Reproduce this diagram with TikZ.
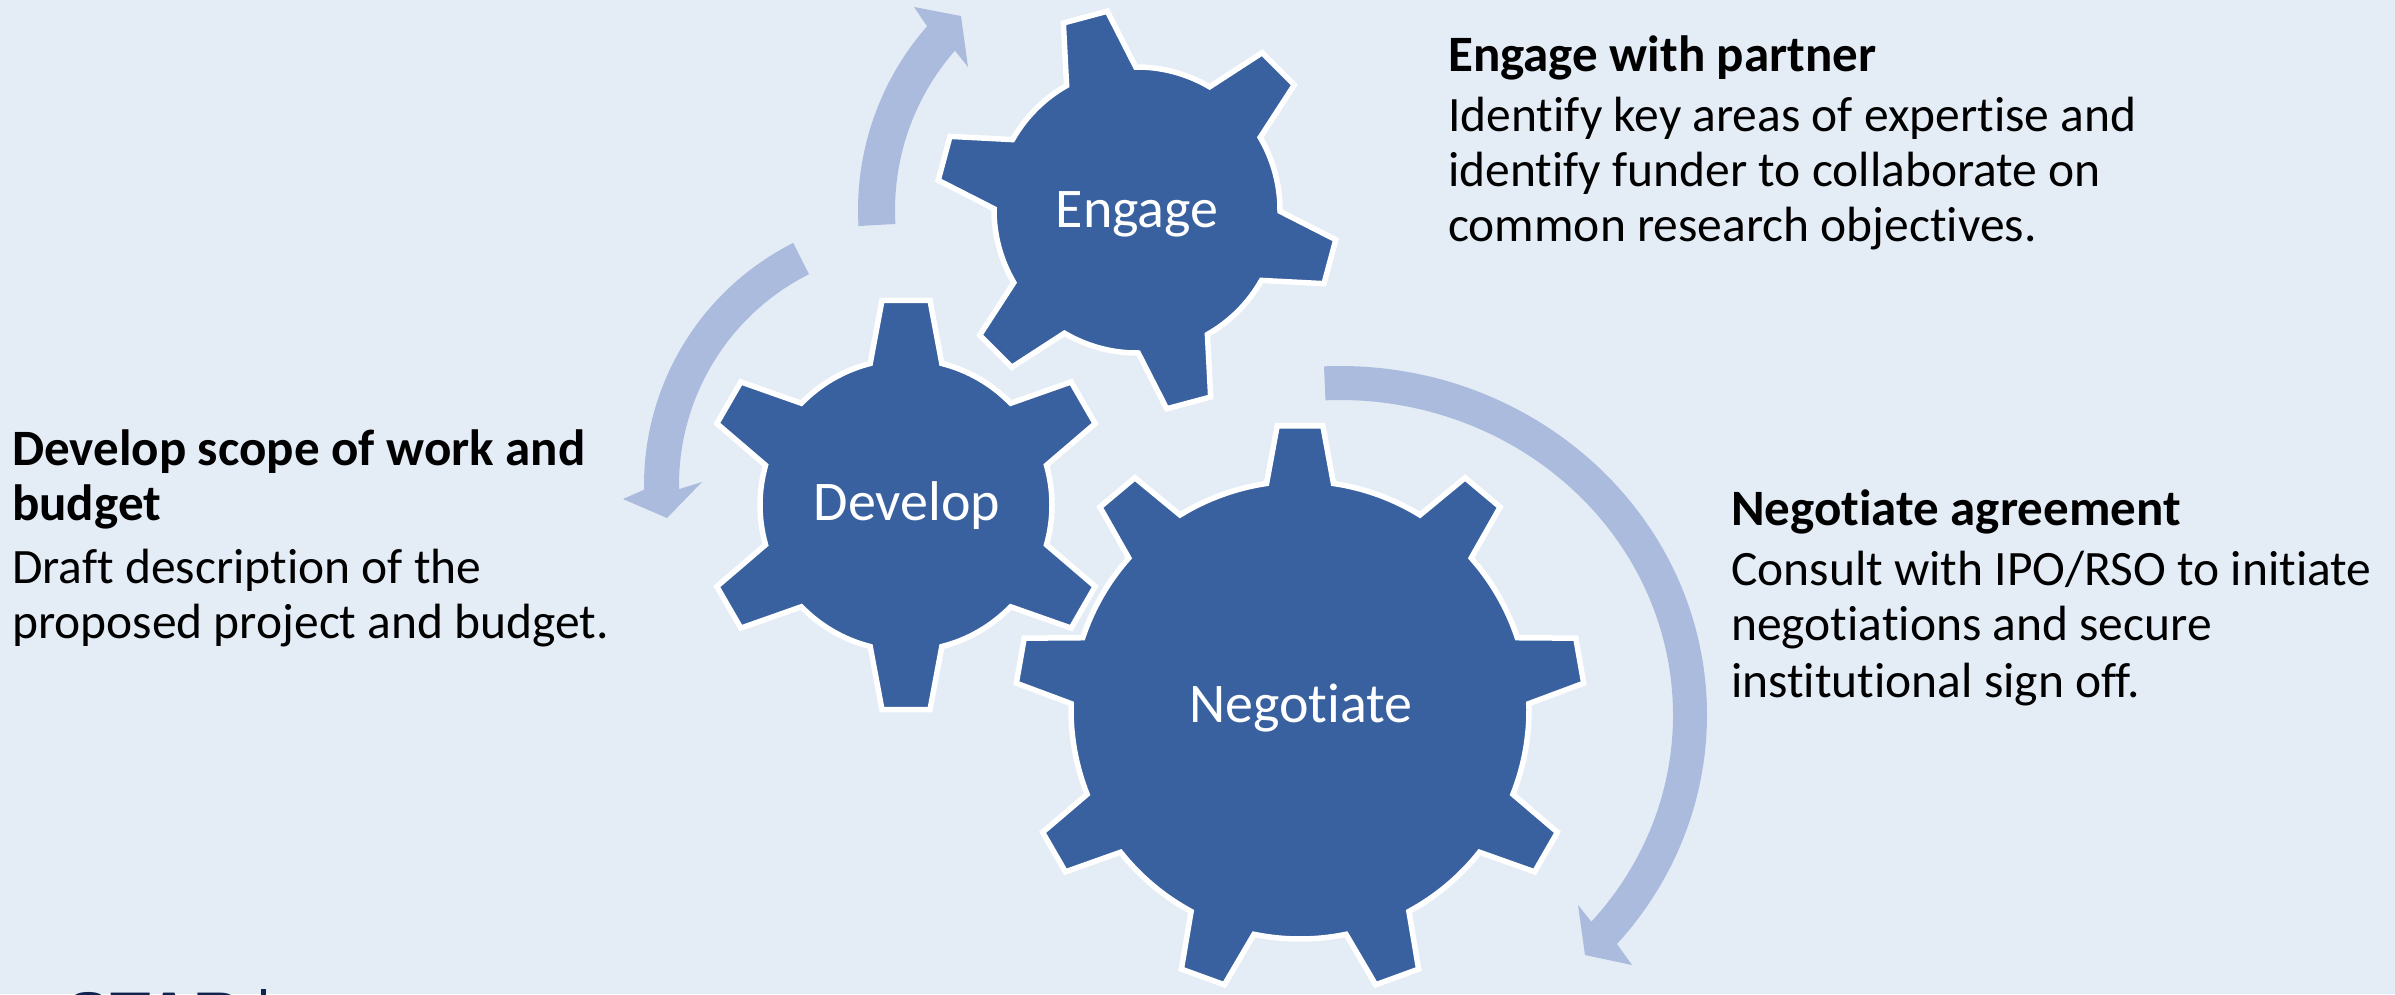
\documentclass[tikz,border=0pt]{standalone}
\usepackage{fontspec}
\setmainfont{Carlito}[Ligatures={NoCommon,NoRequired},Contextuals=NoAlternate]
\newfontfamily\logofont{Liberation Sans}
\definecolor{bgblue}{RGB}{228,236,246}
\definecolor{gearblue}{RGB}{57,97,159}
\definecolor{arrowblue}{RGB}{171,187,222}
\definecolor{logonavy}{RGB}{16,36,80}
\begin{document}
\begin{tikzpicture}[x=1pt,y=1pt,
  gear/.style={fill=gearblue, draw=white, line width=5.5pt, line join=miter},
  arrowband/.style={fill=arrowblue, draw=none},
  geartext/.style={text=white, anchor=base, inner sep=0, font=\fontsize{56}{60}\selectfont},
  titletext/.style={anchor=base west, inner sep=0, font=\bfseries\fontsize{51}{56}\selectfont},
  bodytext/.style={anchor=base west, inner sep=0, font=\fontsize{49.5}{56}\selectfont}]
\fill[bgblue] (0,0) rectangle (2395,-994);
\useasboundingbox (0,0) rectangle (2395,-994);

% ---- arrows ----
\begin{scope}[shift={(1137,-210)}]
  \coordinate (a1c) at (0,0);
  \fill[arrowband] (183.3:279pt) arc[start angle=183.3, end angle=138.8, radius=279pt]
    -- (-223,203) -- (-176,194) -- (-169,143)
    -- (138.8:242pt) arc[start angle=138.8, end angle=183.3, radius=242pt] -- cycle;
\end{scope}
\begin{scope}[shift={(915,-485)}]
  \coordinate (a2c) at (0,0);
  \fill[arrowband] (116.7:271pt) arc[start angle=116.7, end angle=181, radius=271pt]
    -- (-292,-14) -- (-248,-33) -- (-213,3)
    -- (181:236pt) arc[start angle=181, end angle=116.7, radius=236pt] -- cycle;
\end{scope}
\begin{scope}[shift={(1340,-715)}]
  \coordinate (a3c) at (0,0);
  \fill[arrowband] ({367*cos(92.5)},{349*sin(92.5)})
    arc[start angle=92.5, end angle=-41, x radius=367, y radius=349]
    -- (292,-250) -- (245,-240) -- (238,-190)
    -- ({333*cos(-41)},{315*sin(-41)})
    arc[start angle=-41, end angle=92.5, x radius=333, y radius=315] -- cycle;
\end{scope}

% ---- gears ----
\begin{scope}[shift={(1300,-710)}]
  \coordinate (negc) at (0,0);
  \draw[gear] ({90-8.4}:229pt) \foreach \k in {0,...,8}{
     -- ({90+40*\k-4.6}:285pt) -- ({90+40*\k+4.6}:285pt) -- ({90+40*\k+8.4}:229pt)
     arc[start angle={90+40*\k+8.4}, end angle={90+40*\k+40-8.4}, radius=229pt]
  } -- cycle;
\end{scope}
\begin{scope}[shift={(906,-505)}]
  \coordinate (devc) at (0,0);
  \draw[gear] ({90-14.2}:146pt) \foreach \k in {0,...,5}{
     -- ({90+60*\k-6.7}:206pt) -- ({90+60*\k+6.7}:206pt) -- ({90+60*\k+14.2}:146pt)
     arc[start angle={90+60*\k+14.2}, end angle={90+60*\k+60-14.2}, radius=146pt]
  } -- cycle;
\end{scope}
\begin{scope}[shift={(1137,-210)}]
  \coordinate (engc) at (0,0);
  \draw[gear] ({105-14.5}:143pt) \foreach \k in {0,...,5}{
     -- ({105+60*\k-6.5}:201pt) -- ({105+60*\k+6.5}:201pt) -- ({105+60*\k+14.5}:143pt)
     arc[start angle={105+60*\k+14.5}, end angle={105+60*\k+60-14.5}, radius=143pt]
  } -- cycle;
\end{scope}

\node[geartext] (engtxt) at (1137,-227) {Engage};
\node[geartext] (devtxt) at (907,-520) {Develop};
\node[geartext] (negtxt) at (1301,-722) {Negotiate};

% ---- descriptions ----
\node[titletext] (et) at (1448,-71) {Engage with partner};
\node[bodytext] (e1) at (1448,-131) {Identify key areas of expertise and};
\node[bodytext] (e2) at (1448,-186) {identify funder to collaborate on};
\node[bodytext] (e3) at (1448,-241) {common research objectives.};

\node[titletext] (dt1) at (12,-465) {Develop scope of work and};
\node[titletext] (dt2) at (12,-520) {budget};
\node[bodytext] (d1) at (12,-583) {Draft description of the};
\node[bodytext] (d2) at (12,-638) {proposed project and budget.};

\node[titletext] (nt) at (1731,-525) {Negotiate agreement};
\node[bodytext] (n1) at (1731,-585) {Consult with IPO/RSO to initiate};
\node[bodytext] (n2) at (1731,-640) {negotiations and secure};
\node[bodytext] (n3) at (1731,-697) {institutional sign off.};

% ---- logo (cut off at the bottom edge) ----
\begin{scope}
  \clip (0,0) rectangle (2395,-994);
  \node[anchor=base west, inner sep=0, text=logonavy, font=\logofont\bfseries\fontsize{66}{66}\selectfont] (logo) at (66,-1038) {STAR};
  \fill[logonavy] (261,-989) rectangle (266,-1010);
\end{scope}
\end{tikzpicture}
\end{document}
